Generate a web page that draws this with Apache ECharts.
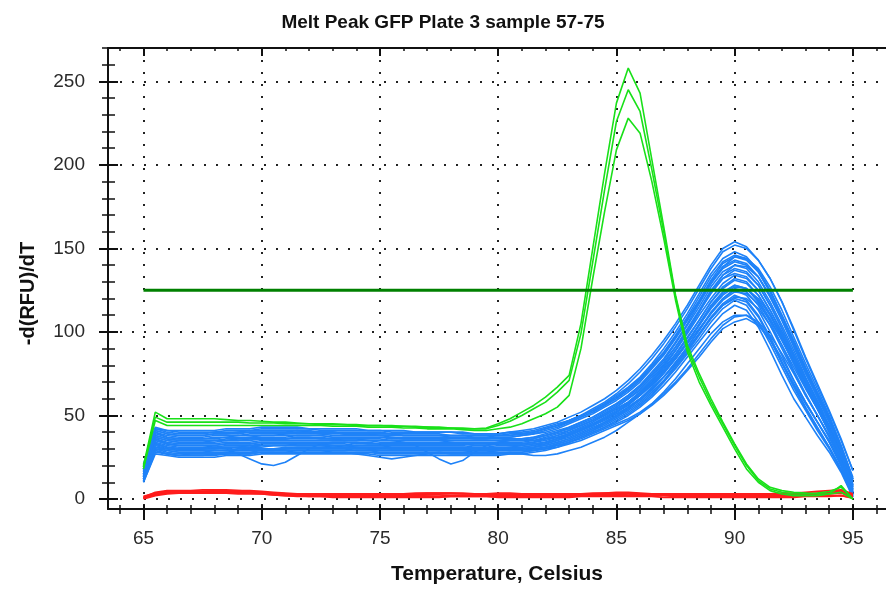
<!DOCTYPE html>
<html><head><meta charset="utf-8">
<script src="https://cdn.jsdelivr.net/npm/echarts@6/dist/echarts.min.js"></script>
<style>html,body{margin:0;padding:0;background:#fff}#chart{width:886px;height:590px}</style>
</head><body><div id="chart"></div>
<script>
const temperatures = [65,65.5,66,66.5,67,67.5,68,68.5,69,69.5,70,70.5,71,71.5,72,72.5,73,73.5,74,74.5,75,75.5,76,76.5,77,77.5,78,78.5,79,79.5,80,80.5,81,81.5,82,82.5,83,83.5,84,84.5,85,85.5,86,86.5,87,87.5,88,88.5,89,89.5,90,90.5,91,91.5,92,92.5,93,93.5,94,94.5,95];

const xMajorTicks = [65,70,75,80,85,90,95];
const xMinorTicks = [64,65,66,67,68,69,70,71,72,73,74,75,76,77,78,79,80,81,82,83,84,85,86,87,88,89,90,91,92,93,94,95,96];
const yMajorTicks = [0,50,100,150,200,250];
const yMinorTicks = [0,10,20,30,40,50,60,70,80,90,100,110,120,130,140,150,160,170,180,190,200,210,220,230,240,250,260,270];

const thresholdValue = 125;
const thresholdRange = [65,95];

const blue01 = [20,42,41,40,40,40,40,41,41,41,42,42,42,42,42,41,41,41,41,41,41,40,40,40,40,40,40,39,39,39,39,40,
  41,42,44,46,49,52,56,60,65,71,78,86,95,105,116,128,140,150,154,151,143,132,118,101,84,68,52,35,17];
const blue02 = [18,41,39,38,38,38,39,39,39,40,40,40,40,41,40,40,40,39,39,39,39,39,38,38,38,38,38,38,38,38,38,38,
  39,40,42,44,47,50,53,57,62,67,73,81,90,100,111,123,135,144,148,145,137,125,110,94,78,63,48,31,12];
const blue03 = [17,39,37,36,36,36,37,37,38,38,38,38,39,39,39,39,38,38,38,38,38,37,37,37,37,37,37,37,36,36,37,37,
  38,39,40,42,45,48,51,55,59,64,70,78,86,96,107,118,130,139,143,141,133,121,107,91,75,61,46,29,10];
const blue04 = [16,38,36,35,35,35,35,36,36,37,37,37,37,38,38,38,37,37,37,37,37,36,36,36,36,36,35,35,35,35,35,36,
  36,37,39,41,43,46,49,53,57,62,68,75,83,93,104,115,127,136,140,138,130,118,104,89,73,59,44,28,8];
const blue05 = [15,37,35,34,34,34,35,35,35,36,36,36,36,37,37,36,36,36,36,35,35,35,34,32,28,24,21,23,28,32,34,35,
  35,36,38,40,42,45,48,52,56,61,67,74,82,91,101,112,123,132,137,135,128,116,102,87,72,58,43,27,7];
const blue06 = [15,36,34,33,33,33,33,34,34,34,35,35,35,35,35,35,35,35,35,35,34,34,34,34,34,34,34,33,33,33,34,34,
  34,35,37,39,41,44,47,51,55,60,65,72,80,89,99,110,120,129,134,132,125,113,100,85,70,57,42,26,6];
const blue07 = [14,35,33,32,32,32,31,30,27,24,21,20,22,26,30,33,34,34,34,34,33,33,33,33,33,33,33,33,32,32,33,33,
  33,34,36,38,40,43,46,50,54,58,64,70,78,87,97,107,118,126,131,129,122,111,98,83,69,56,41,25,5];
const blue08 = [13,34,32,31,31,31,31,32,32,32,33,33,33,33,33,33,33,33,32,32,32,32,32,32,32,32,32,32,31,31,32,32,
  32,33,34,36,38,41,44,48,52,56,62,68,76,84,94,104,115,123,128,126,119,108,95,81,67,54,40,24,4];
const blue09 = [12,33,31,30,30,30,30,30,31,31,31,32,32,32,32,32,32,31,31,31,31,31,31,31,31,31,31,31,30,30,30,31,
  31,32,33,35,37,40,43,46,50,55,60,66,73,82,91,101,111,120,125,122,113,100,86,71,58,46,34,20,3];
const blue10 = [12,31,30,29,29,29,29,29,30,30,30,30,31,31,31,31,31,31,30,30,30,30,30,30,30,30,30,30,29,29,30,30,
  30,31,32,34,36,39,42,45,49,53,58,64,71,80,89,99,109,117,122,119,110,97,82,68,55,43,31,18,2];
const blue11 = [11,30,29,28,28,28,28,28,29,29,29,29,30,30,30,30,30,30,29,29,29,29,29,29,29,29,29,29,28,28,29,29,
  29,30,31,33,35,38,41,44,48,52,57,63,70,78,87,96,106,114,119,116,106,93,79,65,53,41,30,17,2];
const blue12 = [10,28,27,26,26,26,26,27,27,27,28,28,28,28,28,28,28,28,28,28,27,27,27,27,27,27,27,27,27,27,27,28,
  28,29,30,32,34,37,40,43,46,50,55,61,68,76,85,94,103,111,116,113,103,89,74,60,49,38,28,16,1];
const blue13 = [13,32,30,29,29,29,29,29,30,30,30,30,30,31,31,31,31,31,31,30,30,30,30,30,30,30,30,30,29,29,29,29,
  29,29,30,31,33,35,38,41,44,47,51,56,62,69,77,85,94,102,106,108,104,95,82,69,57,46,35,21,4];
const blue14 = [14,33,31,30,30,30,31,31,31,31,32,32,32,32,32,32,31,31,31,31,31,30,30,30,30,30,30,30,30,30,30,30,
  30,30,31,32,34,36,39,42,45,48,52,57,63,70,78,87,96,104,109,110,106,98,87,75,62,50,38,23,3];
const blue15 = [19,42,40,39,39,39,40,40,40,41,41,41,41,41,41,40,40,40,40,40,40,39,39,39,39,39,38,38,38,38,38,39,
  39,40,42,44,46,49,52,56,60,65,71,79,87,97,108,119,131,141,145,143,136,124,110,95,79,64,49,32,13];
const blue16 = [16,36,33,32,32,32,32,33,33,33,34,34,34,34,34,34,34,34,33,33,33,33,33,33,33,33,33,33,33,33,33,33,
  33,34,35,37,39,42,45,48,52,57,62,69,76,85,94,104,114,122,127,126,120,110,97,83,69,56,42,27,9];
const blue17 = [12,30,28,27,27,27,27,28,28,28,29,29,29,29,29,29,29,29,29,29,28,28,28,28,28,28,28,28,28,28,29,29,
  30,31,33,35,38,41,44,48,52,57,63,70,79,89,100,112,124,132,135,133,125,113,99,84,69,55,41,25,5];
const blue18 = [17,38,36,35,35,35,35,35,36,36,36,36,36,37,37,37,36,36,36,36,36,35,35,35,35,35,35,35,35,35,35,35,
  35,35,36,37,39,42,44,47,51,55,60,66,73,81,90,99,108,116,121,120,114,104,92,79,66,54,40,25,7];
const blue19 = [18,40,38,37,37,37,38,38,38,39,39,39,39,40,40,39,39,39,39,39,38,38,38,38,38,38,37,37,37,37,37,37,
  38,39,41,43,46,49,52,56,61,66,72,80,88,98,109,121,133,142,146,144,136,124,109,93,77,62,47,30,11];
const blue20 = [14,35,33,32,32,32,32,33,33,33,34,34,34,34,34,34,34,34,34,33,33,33,33,33,33,33,33,33,32,32,33,33,
  33,34,36,38,41,44,47,51,55,60,66,73,81,91,102,113,125,134,138,136,128,116,102,86,71,57,42,26,6];
const blue21 = [13,33,31,30,30,30,30,31,31,31,32,32,32,32,32,32,32,32,31,31,31,31,31,31,31,31,31,31,30,30,31,31,
  31,32,34,36,38,41,44,48,52,57,62,69,77,86,96,107,118,127,132,130,122,110,96,81,67,54,40,24,4];
const blue22 = [12,31,29,28,28,28,29,29,29,30,30,30,30,30,30,30,30,30,30,30,29,29,29,29,29,29,29,29,29,29,29,30,
  30,31,32,34,36,39,42,46,50,54,59,65,73,81,91,101,112,120,126,124,116,104,90,76,62,50,37,22,3];
const blue23 = [21,43,41,41,41,41,41,42,42,42,43,43,43,43,42,42,42,42,42,41,41,41,41,40,40,40,40,40,39,39,39,40,
  40,41,43,45,47,50,53,57,61,66,72,79,87,97,107,118,129,138,142,140,133,121,107,92,76,62,47,30,12];
const blue24 = [10,27,26,25,25,25,25,26,26,26,27,27,27,27,27,27,27,27,27,27,26,26,26,26,26,26,26,26,26,26,26,27,
  27,28,29,31,34,37,40,43,47,51,56,62,70,79,88,98,108,116,120,118,109,96,81,67,54,42,31,18,1];
const blue25 = [11,29,27,26,26,26,27,27,27,27,28,28,28,28,28,28,28,28,28,28,28,28,28,28,28,28,27,27,27,27,27,27,
  27,26,26,27,29,31,34,37,41,46,51,57,64,72,81,90,99,106,110,110,105,96,84,71,58,46,34,20,2];
const blue26 = [19,41,39,38,38,38,39,39,40,40,40,40,40,40,40,40,40,39,39,39,39,39,38,38,38,38,38,38,37,37,38,38,
  39,40,42,44,47,50,54,58,63,69,76,84,93,103,114,126,138,148,152,150,143,132,118,102,85,69,53,36,17];
const blue27 = [15,37,35,34,34,34,34,35,35,35,36,36,36,36,36,36,36,35,35,35,35,35,35,35,35,35,34,34,34,34,34,35,
  35,36,38,40,43,46,49,53,57,62,68,76,84,94,105,117,129,139,145,144,138,127,113,97,81,66,50,32,12];
const blue28 = [13,33,31,30,30,30,31,31,31,32,32,32,32,33,33,33,32,32,32,32,32,31,31,31,31,31,31,31,31,31,31,31,
  32,33,34,36,39,42,45,49,53,58,64,71,79,89,100,112,124,134,140,139,133,122,108,92,76,61,46,29,8];
const blue29 = [11,29,27,26,27,27,27,27,28,28,28,28,28,29,29,29,28,28,27,26,25,24,25,26,27,28,28,28,28,28,28,28,
  28,29,31,33,35,38,41,45,49,54,60,67,75,84,94,105,116,124,128,126,118,106,92,77,63,50,37,22,3];
const blue30 = [18,40,37,36,36,36,36,37,37,37,38,38,38,38,38,38,37,37,37,37,37,37,36,36,36,36,36,36,36,36,36,36,
  36,37,38,40,42,44,47,50,54,58,63,69,76,84,93,102,111,119,124,123,117,107,95,82,68,55,41,26,8];

const green01 = [20,52,48,48,48,48,48,47.5,47,47,46.5,46,46,45.5,45,45,45,44.5,44.5,44,44,44,43.5,43.5,43,43,42.5,42.5,42,42.5,45,48,
  52,56,61,67,74,105,150,195,237,258,243,203,163,122,92,75,60,46,33,21,12,7,5,4,3.5,3,3,4,0];
const green02 = [19,49,46,46,46,46,46,46,46,45.5,45.5,45.5,45,45,45,44.5,44.5,44.5,44,44,44,43.5,43.5,43,43,42.5,42.5,42,42,42,44,46.5,
  50,54,58,64,71,99,142,185,226,245,232,197,160,121,90,73,58,45,32,20,11,6,4,3,3,3.5,4.5,7,0];
const green03 = [18,47,44,44,44,44,44,44,44,44,44,44,44,44,44,44,43.5,43.5,43.5,43,43,43,42.5,42.5,42,42,42,41.5,41,41,42,43,
  45,48,51,55,62,90,132,172,209,228,219,190,156,119,88,70,56,43,30,18,10,5,3,2,2,2,3,8,0];

const red01 = [1,4,5,5,5,5.5,5.5,5.5,5,5,4.5,4,3.5,3,3,3,3,3,3,3,3,3,3,3.5,3.5,3.5,3.5,3.5,3,3,3,3,3,3,3,3,3,3,3.5,3.5,4,4,3.5,3,3,3,3,3,3,3,3,3,3,3,3.5,3.5,4,4.5,5,5.5,3];
const red02 = [0.5,3,4,4,4.5,4.5,4.5,4.5,4,4,3.5,3,2.5,2.5,2,2,2,2,2,2,2.5,2.5,2.5,2.5,2.5,2.5,2,2,2,2,2,2,2,2.5,2.5,2.5,2.5,2.5,3,3,3,3,2.5,2.5,2.5,2,2,2,2,2,2,2,2,2.5,2.5,2.5,3,3,3.5,4,2];
const red03 = [1.5,3.5,4.5,4.5,4.5,4.5,5,5,5,4.5,4,3.5,3,3,2.5,2.5,2.5,2.5,2.5,2.5,2,2,2,2,2.5,3,3,3,3,2.5,2.5,2.5,2.5,2,2,2,2,2,2.5,2.5,2.5,3,3,3,2.5,2.5,2.5,2.5,2.5,2,2,2,2,2,2,2.5,2.5,3,3,3.5,1.5];
const red04 = [0.5,2.5,3.5,3.5,4,4,4,4,4,3.5,3,2.5,2,2,1.5,1.5,1.5,1.5,1.5,1.5,1.5,1.5,1.5,1.5,1.5,1.5,1.5,1.5,1.5,1.5,1.5,1.5,1.5,1.5,1.5,1.5,1.5,2,2,2,2,2,2,2,2,1.5,1.5,1.5,1.5,1.5,1.5,1.5,1.5,1.5,1.5,1.5,2,2,2,2,1];
const red05 = [1,3,4,4,4,4,4.5,4.5,4.5,4,4,3.5,3,3,3,3,2.5,2.5,2.5,2.5,2.5,2.5,2.5,3,3.5,3.5,3.5,3,3,3,3.5,3.5,3,2.5,2.5,2.5,2.5,3,3,3.5,3.5,3.5,3,2.5,2.5,2.5,2.5,2.5,2.5,2.5,2.5,2.5,2.5,3,3,3,3,3.5,4,4.5,2.5];
const red06 = [0,2,3,3.5,3.5,3.5,3.5,3.5,3,3,3,2.5,2,1.5,1.5,1.5,1,1,1,1,1,1,1,1,1,1,1.5,1.5,1.5,1.5,1,1,1,1,1,1,1,1.5,1.5,1.5,1.5,1.5,1.5,1.5,1,1,1,1,1,1,1,1,1,1,1,1,1.5,1.5,1.5,2,0.5];

const blueCurves = [blue01,blue02,blue03,blue04,blue05,blue06,blue07,blue08,blue09,blue10,blue11,blue12,blue13,blue14,blue15,
  blue16,blue17,blue18,blue19,blue20,blue21,blue22,blue23,blue24,blue25,blue26,blue27,blue28,blue29,blue30];
const greenCurves = [green01,green02,green03];
const redCurves = [red01,red02,red03,red04,red05,red06];

const X_MIN = 63.5, X_MAX = 96.4, Y_MIN = -6, Y_MAX = 270;
const FONT = 'Liberation Sans, Arial, sans-serif';
const AX = '#111';

function xAxisDef(position, ticks, len, inside, extra) {
  return Object.assign({
    type: 'value', min: X_MIN, max: X_MAX, position: position,
    axisLine: { show: false, onZero: false, lineStyle: { color: AX, width: 2 } },
    axisTick: { show: true, customValues: ticks, length: len, inside: inside, lineStyle: { color: AX, width: 2 } },
    axisLabel: { show: false },
    splitLine: { show: false }
  }, extra || {});
}
function yAxisDef(ticks, len, inside, extra) {
  return Object.assign({
    type: 'value', min: Y_MIN, max: Y_MAX, position: 'left',
    axisLine: { show: false, onZero: false, lineStyle: { color: AX, width: 2 } },
    axisTick: { show: true, customValues: ticks, length: len, inside: inside, lineStyle: { color: AX, width: 2 } },
    axisLabel: { show: false },
    splitLine: { show: false }
  }, extra || {});
}

const dotted = { show: true, lineStyle: { color: '#222', width: 2, type: [2, 10] } };

const xAxes = [
  xAxisDef('bottom', xMajorTicks, 11, false, {
    axisLine: { show: true, onZero: false, lineStyle: { color: AX, width: 2 } },
    axisLabel: { show: true, customValues: xMajorTicks, fontFamily: FONT, fontSize: 19, color: '#2a2a2a', margin: 20 },
    splitLine: dotted,
    name: 'Temperature, Celsius', nameLocation: 'middle', nameGap: 55,
    nameTextStyle: { fontFamily: FONT, fontWeight: 'bold', fontSize: 21, color: '#111' }
  }),
  xAxisDef('bottom', xMajorTicks, 4, true),
  xAxisDef('bottom', xMinorTicks, 5, false, { axisTick: { show: true, customValues: xMinorTicks, length: 5, inside: false, lineStyle: { color: AX, width: 1.5 } } }),
  xAxisDef('bottom', xMinorTicks, 4, true, { axisTick: { show: true, customValues: xMinorTicks, length: 4, inside: true, lineStyle: { color: AX, width: 1.5 } } }),
  xAxisDef('top', xMajorTicks, 8, true, { axisLine: { show: true, onZero: false, lineStyle: { color: AX, width: 2 } } }),
  xAxisDef('top', xMinorTicks, 3, true, { axisTick: { show: true, customValues: xMinorTicks, length: 3, inside: true, lineStyle: { color: AX, width: 1.5 } } })
];
const yAxes = [
  yAxisDef(yMajorTicks, 9, false, {
    axisLine: { show: true, onZero: false, lineStyle: { color: AX, width: 2 } },
    axisLabel: { show: true, customValues: yMajorTicks, fontFamily: FONT, fontSize: 19, color: '#2a2a2a', margin: 23 },
    splitLine: dotted,
    name: '-d(RFU)/dT', nameLocation: 'middle', nameGap: 70, nameRotate: 90,
    nameTextStyle: { fontFamily: FONT, fontWeight: 'bold', fontSize: 20, color: '#111', padding: [0, 30, 0, 0] }
  }),
  yAxisDef(yMajorTicks, 10, true),
  yAxisDef(yMinorTicks, 6, false, { axisTick: { show: true, customValues: yMinorTicks, length: 6, inside: false, lineStyle: { color: AX, width: 1.5 } } }),
  yAxisDef(yMinorTicks, 7, true, { axisTick: { show: true, customValues: yMinorTicks, length: 7, inside: true, lineStyle: { color: AX, width: 1.5 } } })
];

function lineSeries(values, color, width, z) {
  return {
    type: 'line', xAxisIndex: 0, yAxisIndex: 0,
    data: temperatures.map((t, i) => [t, values[i]]),
    showSymbol: false, symbol: 'none', silent: true, animation: false,
    lineStyle: { color: color, width: width }, z: z
  };
}

const series = [];
blueCurves.forEach(c => series.push(lineSeries(c, '#1e82f8', 1.6, 2)));
redCurves.forEach(c => series.push(lineSeries(c, '#ff1c1c', 1.8, 3)));
greenCurves.forEach(c => series.push(lineSeries(c, '#19e019', 1.6, 4)));
series.push({
  type: 'line', xAxisIndex: 0, yAxisIndex: 0,
  data: [[thresholdRange[0], thresholdValue], [thresholdRange[1], thresholdValue]],
  showSymbol: false, symbol: 'none', silent: true, animation: false,
  lineStyle: { color: '#008000', width: 3 }, z: 5
});

const chart = echarts.init(document.getElementById('chart'), null, { renderer: 'canvas' });
chart.setOption({
  animation: false,
  backgroundColor: '#ffffff',
  title: {
    text: 'Melt Peak GFP Plate 3 sample 57-75', left: 'center', top: 8,
    textStyle: { fontFamily: FONT, fontWeight: 'bold', fontSize: 19, color: '#111' }
  },
  grid: { left: 108, right: 0, top: 48, bottom: 78, containLabel: false },
  xAxis: xAxes,
  yAxis: yAxes,
  series: series
});
</script>
</body></html>
